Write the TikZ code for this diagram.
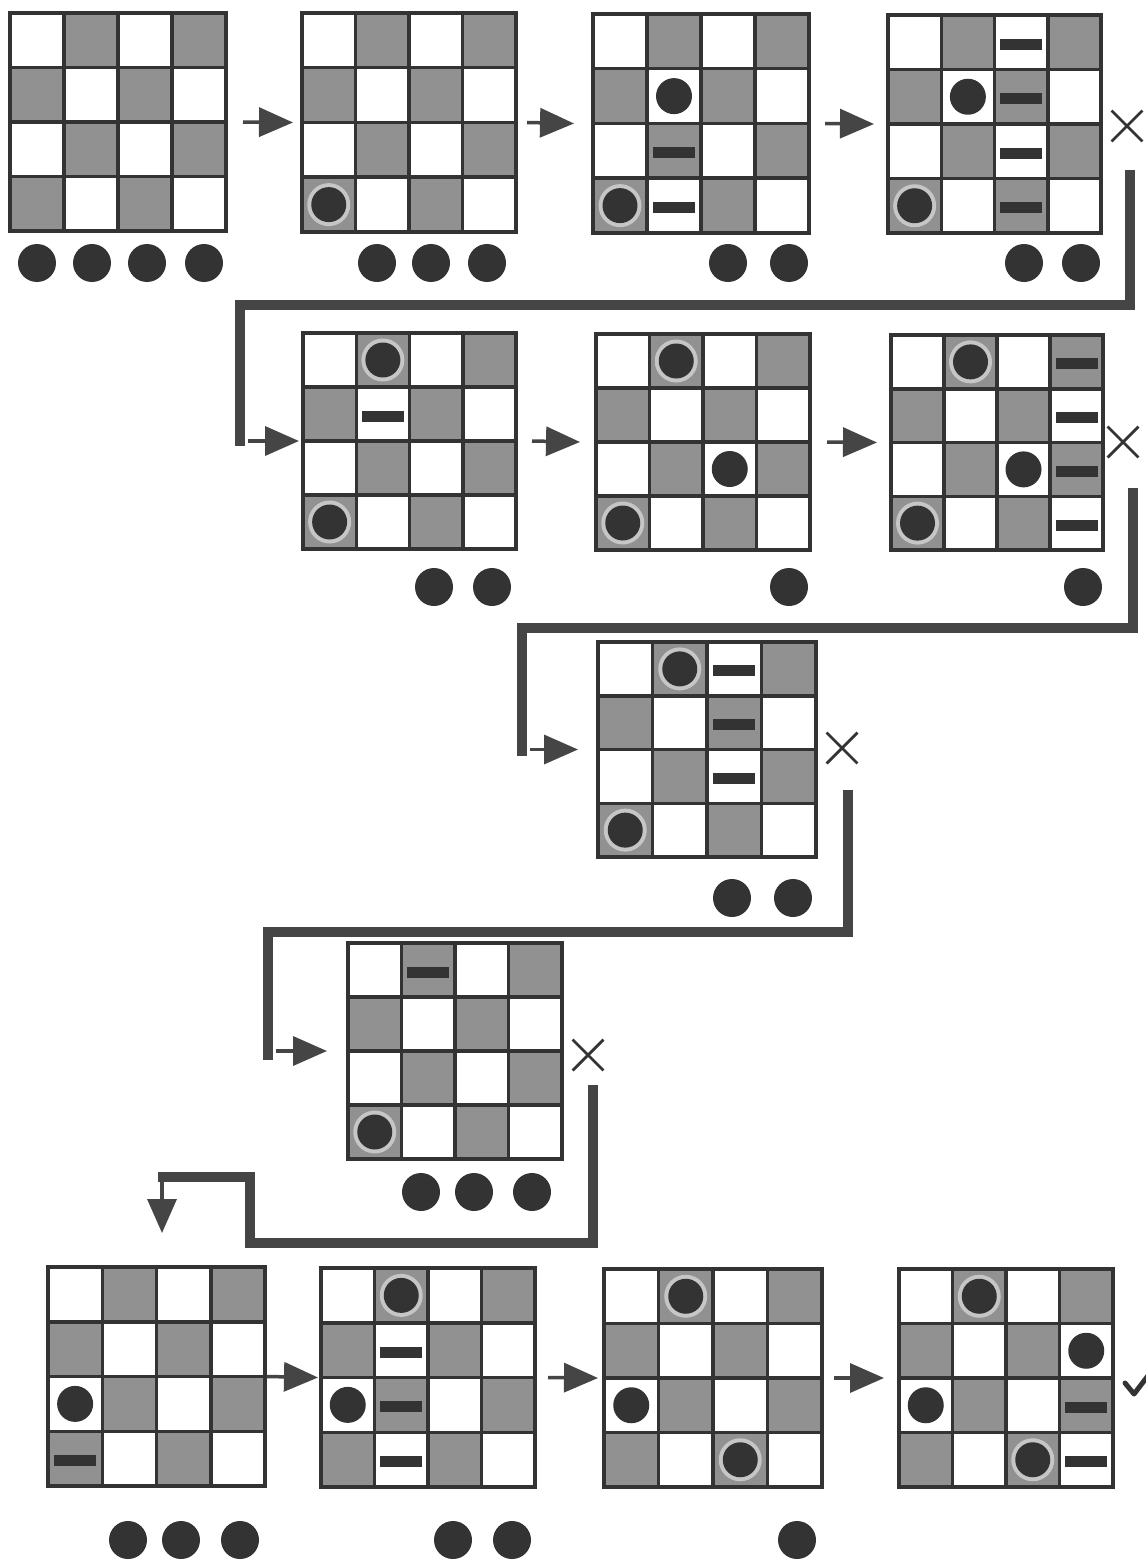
\documentclass[tikz,border=0pt]{standalone}
\usetikzlibrary{arrows.meta,shapes.misc,calc}
\definecolor{ink}{HTML}{333333}
\definecolor{cellg}{HTML}{919191}
\definecolor{barc}{HTML}{454545}
\definecolor{haloc}{HTML}{C6C6C6}
\tikzset{
  gridln/.style={draw=ink, line width=3.5pt},
  greycell/.style={fill=cellg},
  queen/.style={fill=ink},
  halo/.style={fill=haloc},
  blockmark/.style={fill=ink},
  piece/.style={fill=ink},
  bar/.style={draw=barc, line width=10pt},
  arr/.style={draw=barc, fill=barc, line width=3.5pt, -{Triangle[length=34pt,width=29pt]}},
  nope/.style={draw=ink, cross out, line width=2.8pt, minimum size=28pt, inner sep=0pt},
}
% board: name, left, top, width, height, content
\newcommand\qboard[6]{%
  \begin{scope}[shift={(#2,#3)}]
    \pgfmathsetmacro\CW{#4/4}\pgfmathsetmacro\CH{#5/4}
    \node[minimum width=#4pt, minimum height=#5pt, inner sep=0pt, outer sep=0pt, anchor=north west] (#1) at (0,0) {};
    \fill[white] (0,0) rectangle (#4,#5);
    \foreach \ro/\co in {0/1,0/3,1/0,1/2,2/1,2/3,3/0,3/2}
      \fill[greycell] ({\co*\CW},{\ro*\CH}) rectangle ++(\CW,\CH);
    \foreach \i in {1,2,3} {
      \draw[gridln] ({\i*\CW},0) -- ({\i*\CW},#5);
      \draw[gridln] (0,{\i*\CH}) -- (#4,{\i*\CH});
    }
    \draw[gridln] (0,0) rectangle (#4,#5);
    #6
  \end{scope}}
% queen on white cell (row, col)
\newcommand\qw[2]{\fill[queen] ({(#2-0.5)*\CW},{(#1-0.5)*\CH}) circle[radius=18pt];}
% queen on grey cell (row, col)
\newcommand\qg[2]{\fill[halo] ({(#2-0.5)*\CW},{(#1-0.5)*\CH}) circle[radius=21.5pt];
  \fill[queen] ({(#2-0.5)*\CW},{(#1-0.5)*\CH}) circle[radius=17.5pt];}
% blocked mark (row, col)
\newcommand\bk[2]{\fill[blockmark] ({(#2-0.5)*\CW-21},{(#1-0.5)*\CH-3.5}) rectangle ++(42,11);}
% spare pieces at y
\newcommand\pieces[2]{\foreach \px in {#2} \fill[piece] (\px,#1) circle[radius=19pt];}

\begin{document}
\begin{tikzpicture}[x=1pt,y=-1pt]
\useasboundingbox (0,0) rectangle (1145,1562);
\fill[white] (0,0) rectangle (1145,1562);

% ---------- row 1
\qboard{b1}{10}{13}{216}{218}{}
\qboard{b2}{302}{13}{214}{219}{\qg41}
\qboard{b3}{593}{14}{216}{219}{\qw22 \qg41 \bk32 \bk42}
\qboard{b4}{888}{15}{213}{218}{\qw22 \qg41 \bk13 \bk23 \bk33 \bk43}
\pieces{263}{37,92,147,204}
\pieces{263}{377,431,487}
\pieces{263}{728,789}
\pieces{263}{1024,1081}
\draw[arr] ([xshift=17pt]b1.east) -- ([xshift=-9pt]b2.west);
\draw[arr] ([xshift=11pt]b2.east) -- ([xshift=-19pt]b3.west);
\draw[arr] ([xshift=16pt]b3.east) -- ([xshift=-14pt]b4.west);
\node[nope] (x4) at (1127,126) {};

% ---------- row 2
\qboard{b5}{303}{333}{213}{216}{\qg12 \qg41 \bk22}
\qboard{b6}{596}{334}{214}{216}{\qg12 \qw33 \qg41}
\qboard{b7}{891}{335}{212}{215}{\qg12 \qw33 \qg41 \bk14 \bk24 \bk34 \bk44}
\pieces{587}{434,492}
\pieces{587}{789}
\pieces{587}{1083}
\draw[arr] ([xshift=16pt]b5.east) -- ([xshift=-16pt]b6.west);
\draw[arr] ([xshift=17pt]b6.east) -- ([xshift=-14pt]b7.west);
\node[nope] (x7) at (1123,442) {};

\coordinate (k1) at (240,305);
\coordinate (e1) at (240,446);
\draw[bar] ($(x4.center)+(3,44)$) |- (k1) -- (e1);
\draw[arr] ($(e1|-b5.west)+(8,0)$) -- ([xshift=-4pt]b5.west);

% ---------- row 3
\qboard{b8}{598}{642}{218}{215}{\qg12 \qg41 \bk13 \bk23 \bk33}
\pieces{898}{732,793}
\node[nope] (x8) at (842,748) {};
\coordinate (k2) at (522,628);
\coordinate (e2) at (522,756);
\draw[bar] ($(x7.center)+(10,46)$) |- (k2) -- (e2);
\draw[arr] ($(e2|-b8.west)+(8,0)$) -- ([xshift=-20pt]b8.west);

% ---------- row 4
\qboard{b9}{348}{943}{214}{216}{\qg41 \bk12}
\pieces{1192}{421,474,532}
\node[nope] (x9) at (588,1055) {};
\coordinate (k3) at (268,932);
\coordinate (e3) at (268,1060);
\draw[bar] ($(x8.center)+(6,42)$) |- (k3) -- (e3);
\draw[arr] ($(e3|-b9.west)+(8,0)$) -- ([xshift=-21pt]b9.west);

% ---------- row 5
\qboard{b10}{48}{1267}{217}{219}{\qw31 \bk41}
\qboard{b11}{321}{1268}{214}{219}{\qg12 \qw31 \bk22 \bk32 \bk42}
\qboard{b12}{604}{1269}{218}{218}{\qg12 \qw31 \qg43}
\qboard{b13}{899}{1269}{214}{218}{\qg12 \qw24 \qw31 \qg43 \bk34 \bk44}
\pieces{1540}{128,181,240}
\pieces{1540}{453,512}
\pieces{1540}{797}
\draw[arr] ([xshift=2pt]b10.east) -- ([xshift=-3pt]b11.west);
\draw[arr] ([xshift=13pt]b11.east) -- ([xshift=-6pt]b12.west);
\draw[arr] ([xshift=12pt]b12.east) -- ([xshift=-15pt]b13.west);

\coordinate (k4) at (250,1243);
\coordinate (k5) at (158,1177);
\coordinate (k6) at (162,1180);
\draw[bar] ($(x9.center)+(5,30)$) |- (k4) |- (k5);
\draw[arr] (k6) -- ($(b10.north -| k6)+(0,-34)$);

% check mark
\draw[ink, line width=5pt, line cap=round, line join=round] (1125,1383) -- (1134,1394) -- (1160,1360);
\end{tikzpicture}
\end{document}
